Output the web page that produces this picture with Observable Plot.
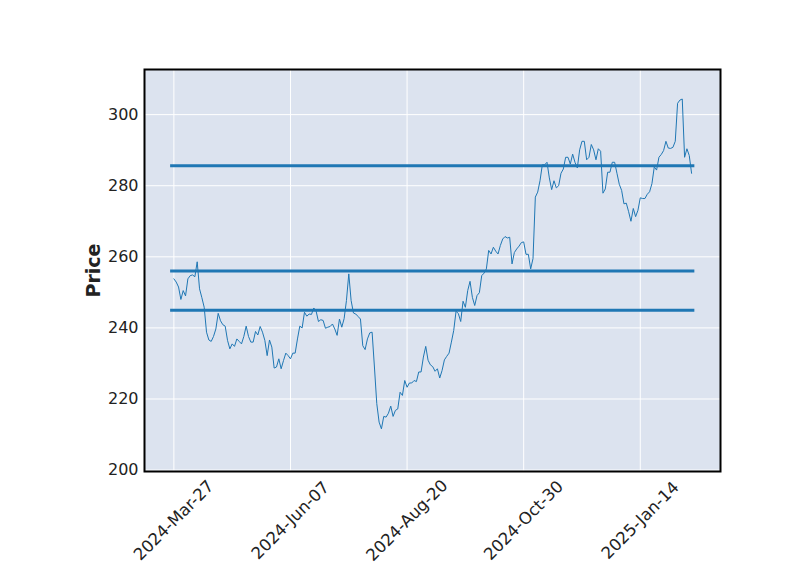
<!DOCTYPE html>
<html>
<head>
<meta charset="utf-8">
<script src="https://cdn.jsdelivr.net/npm/d3@7"></script>
<script src="https://cdn.jsdelivr.net/npm/@observablehq/plot@0.6"></script>
<style>
  html, body { margin: 0; padding: 0; background: #fff; }
  #chart svg { display: block; }
</style>
</head>
<body>
<div id="chart"></div>
<script>
// Closing prices, one per trading day (index 0 = 2024-Mar-27)
const prices = [
  253.8, 252.9, 251.5, 248.0, 250.5, 249.0, 253.8, 254.7, 254.9, 254.4,
  258.6, 251.0, 248.5, 245.8, 238.8, 236.6, 236.2, 237.6, 239.7, 244.1,
  242.0, 240.9, 240.5, 236.5, 234.1, 235.5, 234.8, 236.9, 236.2, 235.5,
  237.6, 240.5, 237.6, 236.0, 236.0, 239.0, 238.0, 240.4, 238.8, 236.5,
  232.2, 236.6, 234.6, 228.7, 229.0, 231.3, 228.5, 230.8, 232.9, 232.2,
  231.3, 232.9, 232.9, 236.9, 240.5, 240.0, 244.4, 243.3, 243.9, 243.8,
  245.6, 244.7, 241.8, 242.3, 242.1, 239.9, 240.2, 240.4, 241.1, 239.7,
  237.9, 242.5, 240.2, 242.6, 247.7, 255.2, 247.7, 244.2, 243.9, 243.2,
  242.5, 235.0, 233.9, 236.9, 238.6, 238.8, 229.0, 218.7, 213.5, 211.6,
  215.1, 214.9, 216.0, 218.0, 215.1, 216.8, 217.2, 221.9, 221.0, 225.2,
  223.3, 224.5, 224.5, 225.2, 224.9, 227.6, 227.6, 231.8, 234.8, 230.9,
  229.6, 229.1, 227.8, 228.5, 225.9, 228.0, 231.0, 232.0, 232.9, 236.0,
  239.3, 244.7, 244.0, 241.8, 247.5, 245.8, 250.5, 253.1, 248.6, 246.3,
  249.1, 249.9, 254.7, 255.4, 256.6, 261.8, 260.8, 262.7, 261.6, 260.8,
  263.2, 265.0, 265.7, 265.3, 265.5, 258.0, 261.2, 262.2, 263.0, 264.0,
  264.2, 260.7, 260.7, 256.6, 259.5, 276.8, 278.2, 281.4, 285.9, 285.9,
  286.6, 282.2, 278.9, 281.4, 279.4, 280.0, 283.5, 284.7, 288.0, 288.0,
  286.1, 288.9, 286.6, 285.0, 290.1, 292.5, 292.5, 287.3, 288.0, 291.6,
  290.1, 287.3, 290.4, 289.7, 277.9, 279.1, 283.8, 283.8, 286.6, 286.6,
  283.5, 280.4, 278.7, 274.9, 275.1, 272.7, 270.0, 273.6, 271.3, 273.1,
  276.6, 276.4, 276.4, 277.6, 278.3, 280.6, 285.3, 284.4, 288.0, 288.8,
  289.9, 292.5, 290.6, 290.5, 290.8, 292.5, 303.2, 304.1, 304.4, 288.0,
  290.4, 288.5, 283.5
];

// Horizontal reference levels
const levels = [285.6, 256.0, 245.0];

// X tick positions (trading-day index) and their labels
const xTickIndex = [0, 50, 100, 150, 200];
const xTickLabels = ["2024-Mar-27", "2024-Jun-07", "2024-Aug-20", "2024-Oct-30", "2025-Jan-14"];

// Y ticks
const yTicks = [200, 220, 240, 260, 280, 300];

const series = prices.map((p, i) => ({i, p}));
const ticks = xTickIndex.map((t, k) => ({t, label: xTickLabels[k]}));
const n = prices.length;
const pad = 1.4;

const blue = "#1f77b4";

const chart = Plot.plot({
  width: 800,
  height: 575,
  marginLeft: 144,
  marginRight: 80,
  marginTop: 69,
  marginBottom: 104,
  style: {fontFamily: "DejaVu Sans, sans-serif", fontSize: "16px", background: "white", color: "#222"},
  x: {type: "linear", domain: [-12.6, 234.4], axis: null},
  y: {type: "linear", domain: [199.6, 312.7], axis: null},
  marks: [
    Plot.frame({fill: "#DCE3EF"}),
    Plot.gridY(yTicks, {stroke: "white", strokeOpacity: 1, strokeWidth: 1}),
    Plot.gridX(xTickIndex, {stroke: "white", strokeOpacity: 1, strokeWidth: 1}),
    Plot.ruleY(levels, {y: d => d, x1: () => -pad, x2: () => n - 1 + pad, stroke: blue, strokeWidth: 3}),
    Plot.line(series, {x: "i", y: "p", stroke: blue, strokeWidth: 1}),
    Plot.frame({stroke: "black", strokeWidth: 2}),
    Plot.axisY(yTicks, {label: null, tickSize: 0, tickPadding: 6, fontSize: 16, fill: "#222"}),
    Plot.text(ticks, {x: "t", text: "label", frameAnchor: "bottom", dy: 49, rotate: -45, textAnchor: "middle", lineAnchor: "middle", fontSize: 16.5, fill: "#222"}),
    Plot.text(["Price"], {frameAnchor: "left", dx: -51, rotate: -90, textAnchor: "middle", lineAnchor: "middle", fontSize: 19, fontWeight: "bold", fill: "#222"})
  ]
});

document.getElementById("chart").appendChild(chart);
</script>
</body>
</html>
